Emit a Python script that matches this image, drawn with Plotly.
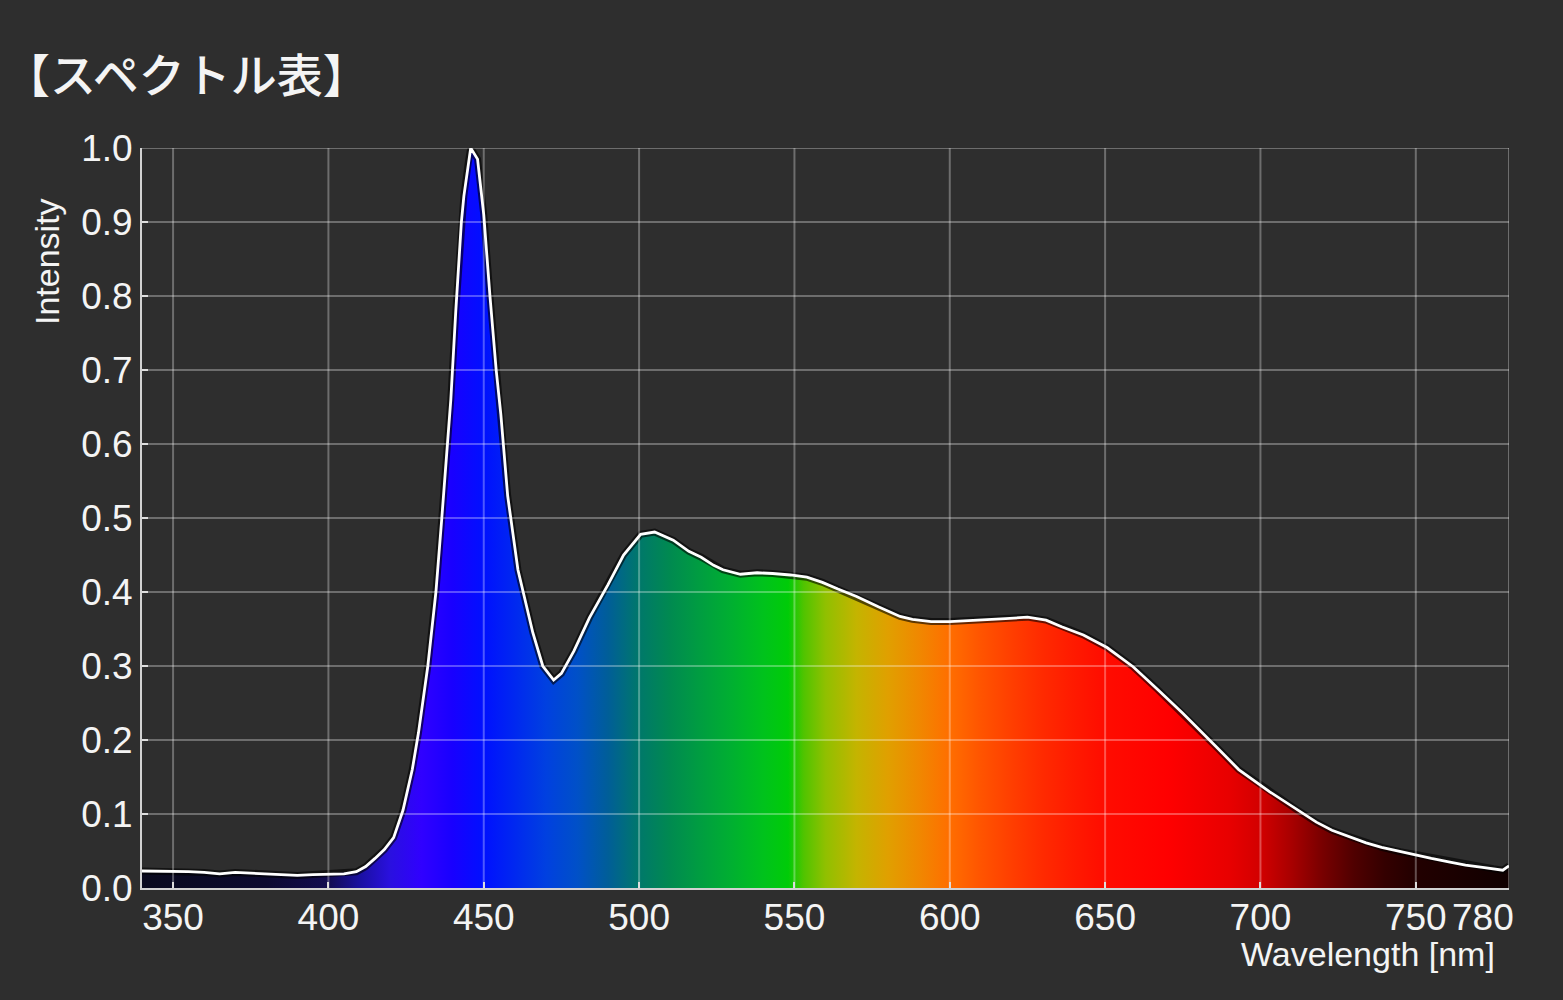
import plotly.graph_objects as go

# ---------------- data ----------------
wavelength_nm = [340, 345, 350, 355, 360, 365, 370, 375, 380, 385, 390, 395, 400, 405,
                 409, 412, 415, 418, 421, 424, 427, 429, 432, 434.6, 436.5, 438.4, 439.4,
                 441, 442.8, 443.6, 445, 445.8, 448, 450, 452, 454, 455.5, 457.7, 461,
                 465.8, 469, 472.5, 475, 479, 484, 490, 495, 500.5, 505, 511, 516, 520,
                 524, 527, 532.6, 538, 543, 548.7, 554, 559, 564, 570, 577, 584, 588, 594,
                 600, 606, 612, 618, 625, 631, 636, 643, 650.6, 659, 667, 675, 686, 693,
                 703, 707, 712, 718, 723, 729, 734, 739, 745, 750, 755, 761, 766, 771.5,
                 775, 778, 780]
intensity = [0.023, 0.023, 0.022, 0.022, 0.021, 0.019, 0.021, 0.020, 0.020, 0.018, 0.017,
             0.018, 0.018, 0.019, 0.022, 0.029, 0.040, 0.052, 0.068, 0.105, 0.16, 0.21,
             0.30, 0.40, 0.50, 0.60, 0.66, 0.78, 0.90, 0.935, 0.98, 1.0, 0.985, 0.91,
             0.80, 0.70, 0.64, 0.53, 0.43, 0.345, 0.30, 0.281, 0.29, 0.32, 0.365, 0.41,
             0.45, 0.478, 0.481, 0.47, 0.455, 0.447, 0.436, 0.43, 0.424, 0.426, 0.425,
             0.423, 0.42, 0.413, 0.404, 0.394, 0.38, 0.367, 0.363, 0.36, 0.36, 0.361,
             0.362, 0.364, 0.366, 0.362, 0.353, 0.342, 0.325, 0.299, 0.268, 0.236, 0.19,
             0.16, 0.13, 0.119, 0.105, 0.089, 0.078, 0.069, 0.061, 0.055, 0.049, 0.045,
             0.040, 0.035, 0.031, 0.028, 0.026, 0.024, 0.030]

x_tick_vals = [350, 400, 450, 500, 550, 600, 650, 700, 750, 780]
x_tick_text = ["350", "400", "450", "500", "550", "600", "650", "700", "750", "780"]
y_tick_vals = [0.0, 0.1, 0.2, 0.3, 0.4, 0.5, 0.6, 0.7, 0.8, 0.9, 1.0]
y_tick_text = ["0.0", "0.1", "0.2", "0.3", "0.4", "0.5", "0.6", "0.7", "0.8", "0.9", "1.0"]

title_text = "【スペクトル表】"
x_title = "Wavelength [nm]"
y_title = "Intensity"

# ---------------- styling ----------------
X_MIN, X_MAX = 340, 780
spectrum_stops = [
    (340, "#0a0a1e"), (380, "#0c0a30"), (400, "#120c50"), (410, "#1a10a0"),
    (420, "#2a10e0"), (430, "#3000ff"), (440, "#1800ff"), (450, "#0010ff"),
    (460, "#0028f0"), (470, "#0040e0"), (480, "#0050c8"), (490, "#005e98"),
    (500, "#00786a"), (510, "#008a50"), (520, "#009e40"), (530, "#00b030"),
    (540, "#00c21c"), (548, "#00cc08"), (553, "#50c400"), (560, "#90c000"),
    (570, "#c4b400"), (580, "#e0a000"), (590, "#f08800"), (600, "#ff6e00"),
    (610, "#ff5400"), (620, "#ff3e00"), (630, "#ff2a00"), (640, "#ff1a00"),
    (650, "#ff0c00"), (670, "#ff0000"), (690, "#e80000"), (700, "#d20000"),
    (710, "#a80000"), (720, "#780000"), (730, "#500000"), (740, "#340000"),
    (750, "#220000"), (780, "#100000"),
]
colorscale = [[(nm - X_MIN) / (X_MAX - X_MIN), c] for nm, c in spectrum_stops]

BG = "#2e2e2e"
GRID = "rgba(255,255,255,0.30)"
AXIS = "#d2d2d2"
TXT = "#f4f4f4"
TICK_FONT = dict(family="Liberation Sans", size=37, color=TXT)

fig = go.Figure()
fig.add_trace(go.Scatter(
    x=wavelength_nm, y=intensity, mode="lines", fill="tozeroy",
    fillgradient=dict(type="horizontal", colorscale=colorscale, start=X_MIN, stop=X_MAX),
    line=dict(color="rgba(0,0,0,0.6)", width=7), hoverinfo="skip", showlegend=False))
fig.add_trace(go.Scatter(
    x=wavelength_nm, y=intensity, mode="lines",
    line=dict(color="white", width=2.8), hoverinfo="skip", showlegend=False))

shapes = []
for v in x_tick_vals:
    shapes.append(dict(type="line", xref="x", yref="paper", x0=v, x1=v, y0=0, y1=1,
                       line=dict(color=GRID, width=2), layer="above"))
for v in y_tick_vals[1:]:
    shapes.append(dict(type="line", xref="paper", yref="y", x0=0, x1=1, y0=v, y1=v,
                       line=dict(color=GRID, width=2), layer="above"))

# the last tick label sits to the left of its tick in the reference:
# draw it as an annotation anchored at that tick, right-aligned
x_tick_text_axis = x_tick_text[:-1] + [""]

fig.update_layout(
    width=1563, height=1000,
    paper_bgcolor=BG, plot_bgcolor=BG,
    margin=dict(l=142, r=54, t=148, b=112, autoexpand=False),
    shapes=shapes,
    title=dict(text=title_text, x=4 / 1563, xanchor="left", xref="container",
               y=1 - 76 / 1000, yanchor="middle", yref="container",
               font=dict(family="Noto Sans CJK JP", size=46, color=TXT, weight=500)),
    annotations=[
        dict(text=y_title, xref="paper", yref="paper", x=(47 - 142) / 1367,
             y=(888 - 262) / 740, xanchor="center", yanchor="middle", textangle=-90,
             showarrow=False, font=dict(family="Liberation Sans", size=34, color=TXT)),
        dict(text=x_title, xref="paper", yref="paper", x=(1497 - 142) / 1367,
             y=(888 - 954) / 740, xanchor="right", yanchor="middle",
             showarrow=False, font=dict(family="Liberation Sans", size=34, color=TXT)),
        dict(text=x_tick_text[-1], xref="x", yref="paper", x=x_tick_vals[-1],
             y=(888 - 917) / 740, xanchor="right", yanchor="middle", xshift=7,
             showarrow=False, font=TICK_FONT),
    ],
    xaxis=dict(range=[X_MIN, X_MAX], tickmode="array", tickvals=x_tick_vals,
               ticktext=x_tick_text_axis, showgrid=False, zeroline=False,
               showline=True, linecolor=AXIS, linewidth=2, automargin=False,
               ticks="inside", ticklen=6, tickcolor=AXIS, tickwidth=2,
               ticklabelstandoff=-4, tickfont=TICK_FONT),
    yaxis=dict(range=[0, 1.0], tickmode="array", tickvals=y_tick_vals,
               ticktext=y_tick_text, showgrid=False, zeroline=False,
               showline=True, linecolor=AXIS, linewidth=2, automargin=False,
               ticks="inside", ticklen=6, tickcolor=AXIS, tickwidth=2,
               tickfont=TICK_FONT),
)

fig.write_html("out.html", config={"displayModeBar": False},
               post_script="document.body.style.margin='0';"
                           "document.body.style.background='#2e2e2e';")
